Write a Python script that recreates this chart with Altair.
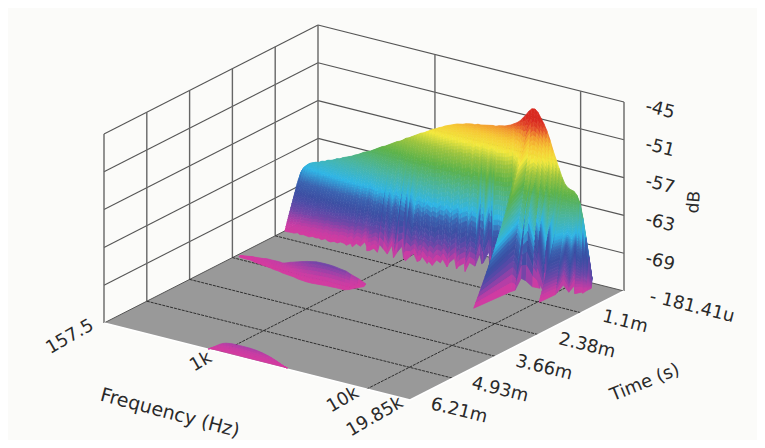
import numpy as np
import pandas as pd
import altair as alt

# ---------- axis ticks ----------
freq_ticks = [157.5, 1000, 10000, 19850]
freq_labels = ["157.5", "1k", "10k", "19.85k"]
time_ticks = [0.18141, 1.1, 2.38, 3.66, 4.93, 6.21]
time_labels = ["- 181.41u", "1.1m", "2.38m", "3.66m", "4.93m", "6.21m"]
db_ticks = [-45, -51, -57, -63, -69]
db_floor = -75

# ---------- main surface: one entry per frequency column ----------
ridge_db = [-67.0,-66.1,-65.6,-65.2,-65.0,-64.8,-64.7,-64.4,-64.3,-64.0,-63.9,-63.7,-63.4,-63.3,-63.0,-62.8,-62.6,-62.4,-62.1,-61.9,
            -61.6,-61.3,-61.1,-60.9,-60.6,-60.3,-60.0,-59.7,-59.5,-59.2,-58.9,-58.6,-58.3,-58.1,-57.8,-57.4,-57.2,-56.9,-56.6,-56.3,
            -56.0,-55.8,-55.5,-55.2,-54.9,-54.7,-54.4,-54.2,-53.9,-53.7,-53.5,-53.3,-53.1,-53.0,-52.9,-52.7,-52.6,-52.5,-52.5,-52.3,
            -52.3,-52.2,-52.1,-52.0,-51.9,-51.9,-51.7,-51.6,-51.5,-51.3,-51.1,-50.8,-50.5,-50.1,-49.5,-48.9,-48.2,-47.7,-47.6,-48.0,
            -48.8,-49.6,-50.6,-51.9,-53.4,-54.7,-56.0,-57.3,-58.3,-58.8,-59.0,-59.1,-59.6,-60.7,-63.0,-65.9,-68.9,-72.2]
decay_end_ms = [.90,.90,.89,.89,.88,.89,.88,.88,.89,.88,.87,.88,.88,.87,.87,.88,.87,.86,.87,.85,
                .86,.84,.86,.85,.82,.80,.82,.87,.88,.86,.84,.87,.85,.82,.80,.84,.88,.87,.84,.86,
                .88,.86,.85,.82,.83,.86,.80,.84,.82,.80,.78,.80,.76,.79,.74,.75,.78,.72,.76,.74,
                .68,.64,.66,.70,.64,.68,.72,.66,.70,.74,.72,.70,.80,.95,1.2,1.75,1.98,1.0,.98,.92,
                .88,.80,.70,.84,.78,.72,.88,.92,1.1,.82,.72,.66,.60,.66,.58,.62,.60,.58]
# how far (0-1) each column's decay runs before it is lost in the floor noise
decay_reach = [1,1,1,1,.99,1,.995,1,1,.99,1,.99,1,.985,1,1,.99,1,.98,.99,
               1,.98,1,.965,.99,.95,.975,1,.99,.97,1,.96,.975,1,.93,.965,1,.98,.95,.99,
               1,.97,.945,1,.985,.95,1,.975,1,.965,.98,.95,1,.965,.94,1,.975,.96,1,.945,
               .97,.95,.98,.96,.95,.98,1,1,1,1,1,1,1,1,1,1,1,1,.99,.97,
               .98,.99,1,.96,.98,.97,1,1,1,.98,.95,.98,.96,.98,.97,.95,.85,.55]
decay_shape = [1.15]*98
for i_, p_ in {72:1.0,73:.95,74:.85,75:.75,76:.72,77:.8,78:.85,79:.85,80:.85,81:.85,82:.85,83:.85,84:.85,85:.85,86:.85,87:.85,88:.82,89:.85,
               90:.85,91:.9,92:.95,93:1.0,94:1.0,95:1.0,96:1.0,97:1.0}.items():
    decay_shape[i_] = p_
# narrow columns that stay louder in the lower part of the decay (dB)
streak_db = [0]*98
for i_, l_ in {31:2,32:1.5,37:3,38:2,40:2.5,61:3.5,62:4.5,63:2,64:5,65:3.5,77:2,79:5,80:6.5,81:3,83:4,85:3,86:4.5,90:2,92:2}.items():
    streak_db[i_] = l_
ridge_start_ms = 0.548

# ---------- two small late reflections ----------
blob1_db = [-74.97,-74.92,-74.84,-74.76,-74.68,-74.6,-74.52,-74.44,-74.37,-74.21,-74.13,-74.05,-73.97,-73.89,-73.79,-73.76,-73.73,-73.57,-73.38,-73.17,
            -73.02,-72.86,-72.7,-72.54,-72.38,-72.25,-72.14,-72.03,-71.94,-71.91,-71.89,-71.89,-71.89,-71.91,-71.95,-72.02,-72.1,-72.16,-72.22,-72.78,-73.73,-74.76]
blob1_start_ms = [2.22,2.22,2.22,2.22,2.22,2.24,2.25,2.26,2.27,2.284,2.30,2.32,2.34,2.36,2.38,2.39,2.41,2.43,2.44,2.444,
                  2.45,2.45,2.46,2.46,2.47,2.47,2.476,2.476,2.476,2.476,2.476,2.476,2.476,2.476,2.476,2.476,2.476,2.476,2.476,2.42,2.28,2.156]
blob1_end_ms = [2.28,2.29,2.30,2.30,2.30,2.32,2.34,2.35,2.36,2.38,2.39,2.40,2.41,2.43,2.444,2.45,2.47,2.49,2.50,2.51,
                2.52,2.53,2.55,2.57,2.58,2.59,2.60,2.60,2.60,2.59,2.58,2.57,2.56,2.55,2.55,2.54,2.54,2.54,2.54,2.48,2.34,2.22]
blob2_db = [-75,-74.68,-74.37,-74.05,-73.73,-73.49,-73.33,-73.25,-73.19,-73.17,-73.16,-73.16,-73.16,-73.16,-73.17,-73.21,-73.25,-73.32,-73.41,-73.52,-73.65,-73.79,-73.98,-74.17,-74.4,-74.62,-74.84]
blob2_start_ms = 6.21
blob2_end_ms = 6.16

# ---------- colours ----------
color_stops = [-75,-74,-73,-72,-70.5,-69.5,-68,-66,-63.5,-60,-57.5,-55.5,-53.5,-52,-50.7,-49.5,-47.6]
color_range = ["#d63aa0","#c83ca4","#a040a8","#7046a8","#4a4ca6","#3b4fa3","#3a62b0","#2fb5e6","#47b5a8","#5cb24a","#9cc43e","#f2e83c","#f6c834","#f29a2e","#e4502a","#d92a20","#d92a20"]

BG = "#fbfbf9"

# ---------- oblique projection of the plot box ----------
def U(f):
    return np.log(np.asarray(f, float) / freq_ticks[0]) / np.log(freq_ticks[-1] / freq_ticks[0])
def V(t):
    return np.interp(t, time_ticks, [1, .8, .6, .4, .2, 0])
def PX(u, v):
    return 104 + 306 * u + 214 * v
def PY(u, v, d=db_floor):
    return 323 + 77 * u - 109 * v - (d - db_floor) * 189 / 30

xs = alt.Scale(domain=[8, 757], nice=False, zero=False)
ys = alt.Scale(domain=[440, 8], nice=False, zero=False)
X = alt.X("x:Q", scale=xs, axis=None)
Y = alt.Y("y:Q", scale=ys, axis=None)

def seg(rows):
    return pd.DataFrame(rows, columns=["x", "y", "x2", "y2"])
def box(u1, v1, d1, u2, v2, d2):
    return [PX(u1, v1), PY(u1, v1, d1), PX(u2, v2), PY(u2, v2, d2)]
def rules(rows, **kw):
    return alt.Chart(seg(rows)).mark_rule(**kw).encode(x=X, y=Y, x2="x2:Q", y2="y2:Q")

top = db_floor + 30
wall_levels = db_ticks
wall_h = [box(0, 0, d, 0, 1, d) for d in wall_levels] + [box(0, 1, d, 1, 1, d) for d in wall_levels]
wall_v = [box(0, V(t), db_floor, 0, V(t), top) for t in time_ticks[1:-1]] + \
         [box(U(f), 1, db_floor, U(f), 1, top) for f in freq_ticks[1:-1]] + \
         [box(0, 0, db_floor, 0, 0, top), box(0, 1, db_floor, 0, 1, top), box(1, 1, db_floor, 1, 1, top)]

fx = [PX(0, 0), PX(0, 1), PX(1, 0), PX(1, 1)]
fy_top = [PY(0, 0), PY(0, 1), PY(0, 1) + (PY(1, 1) - PY(0, 1)) * (fx[2] - fx[1]) / (fx[3] - fx[1]), PY(1, 1)]
fy_bot = [PY(0, 0), PY(0, 0) + (PY(1, 0) - PY(0, 0)) * (fx[1] - fx[0]) / (fx[2] - fx[0]), PY(1, 0), PY(1, 1)]
floor = alt.Chart(pd.DataFrame({"x": fx, "y": fy_top, "y2": fy_bot})).mark_area(color="#999999", opacity=1).encode(x=X, y=Y, y2="y2:Q")

floor_lines = [box(0, V(t), db_floor, 1, V(t), db_floor) for t in time_ticks[1:-1]] + \
              [box(U(f), 0, db_floor, U(f), 1, db_floor) for f in freq_ticks[1:-1]]
floor_edges = [box(0, 0, db_floor, 1, 0, db_floor), box(1, 0, db_floor, 1, 1, db_floor)]
floor_back = [box(0, 1, db_floor, 1, 1, db_floor), box(0, 0, db_floor, 0, 1, db_floor)]

# ---------- surface facets, far to near ----------
def column(u, t_start, d_top, t_end, p, grid, reach=1, lift=0):
    s = grid * reach
    v = V(t_start) + (V(t_end) - V(t_start)) * s
    d = db_floor + (d_top - db_floor) * (1 - s ** p) + lift * 9.5 * s ** 3 * (1 - s)
    return PX(u, v), PY(u, v, d), d

facets = []
def strip(columns, n, power):
    grid = (np.arange(n + 1) / n) ** power
    cols = [column(*c[:5], grid, *c[5:]) for c in columns]
    for a, b in zip(cols[:-1], cols[1:]):
        for i in range(n):
            q = len(facets) and facets[-1][0] + 1
            shade = (a[2][i] + a[2][i + 1] + b[2][i] + b[2][i + 1]) / 4
            pts = [(a[0][i], a[1][i]), (b[0][i], b[1][i]), (b[0][i + 1], b[1][i + 1]), (a[0][i + 1], a[1][i + 1])]
            for o, (x, y) in enumerate(pts):
                facets.append((q, o, x, y, shade))

main_u = np.arange(len(ridge_db)) * 3 / 306
strip([(u, ridge_start_ms, d, te, p, r, l) for u, d, te, p, r, l in zip(main_u, ridge_db, decay_end_ms, decay_shape, decay_reach, streak_db)], 36, 1.25)
b1_u = .01 + .0098 * np.arange(len(blob1_db))
strip([(u, ts, d, te, 1.2) for u, d, ts, te in zip(b1_u, blob1_db, blob1_start_ms, blob1_end_ms)], 6, 1)
b2_u = .34 + .0098 * np.arange(len(blob2_db))
strip([(u, blob2_start_ms, d, blob2_end_ms, 1.2) for u, d in zip(b2_u, blob2_db)], 5, 1)
facets = pd.DataFrame(facets, columns=["q", "o", "x", "y", "db"])
cs = alt.Scale(domain=color_stops, range=color_range, interpolate="rgb")
surface = alt.Chart(facets).mark_line(filled=True, strokeWidth=.8, interpolate="linear").encode(
    x=X, y=Y, detail="q:O", order="o:Q",
    fill=alt.Fill("db:Q", legend=None, scale=cs),
    stroke=alt.Stroke("db:Q", legend=None, scale=cs),
)

# ---------- text ----------
F = "DejaVu Sans"
label_x = [660, 660, 660, 660, 660, 692, 625, 587, 544, 500, 459, 70, 201, 343, 375]
label_y = [110, 148, 185, 223, 262, 307, 322, 346, 368, 390, 411, 337, 362, 400, 417]
label_t = [f"-{abs(d)}" for d in db_ticks] + time_labels + freq_labels
label_a = [14] * 11 + [-30] * 4
labels = alt.Chart(pd.DataFrame({"x": label_x, "y": label_y, "t": label_t, "a": [a % 360 for a in label_a]})).mark_text(
    font=F, fontSize=18, color="#2a2a2a", align="center", baseline="middle").encode(
    x=X, y=Y, text="t:N", angle=alt.Angle("a:Q", scale=None))
title_t = ["Frequency (Hz)", "Time (s)", "dB"]
title_x = [170, 645, 694]
title_y = [413, 383, 202]
title_a = [15, -22, -85]
title_s = [19, 18, 17]
titles = alt.Chart(pd.DataFrame({"x": title_x, "y": title_y, "t": title_t, "a": [a % 360 for a in title_a], "s": title_s})).mark_text(
    font=F, color="#2a2a2a", align="center", baseline="middle").encode(
    x=X, y=Y, text="t:N", angle=alt.Angle("a:Q", scale=None), size=alt.Size("s:Q", scale=None, legend=None))

chart = alt.layer(
    rules(wall_h, color="#555555", strokeWidth=1.1),
    rules(wall_v, color="#666666", strokeWidth=1.4),
    floor,
    rules(floor_back, color="#555555", strokeWidth=1),
    rules(floor_lines, color="#222222", strokeWidth=.9, strokeDash=[3, 1]),
    rules(floor_edges, color="#ffffff", strokeWidth=1.6),
    surface, labels, titles,
).resolve_scale(fill="independent", stroke="independent").properties(width=749, height=432, padding=0, background=BG,
             autosize=alt.AutoSizeParams(type="none")).configure_view(stroke=None)

chart.save("out.html", embed_options={"renderer": "svg", "actions": False})
